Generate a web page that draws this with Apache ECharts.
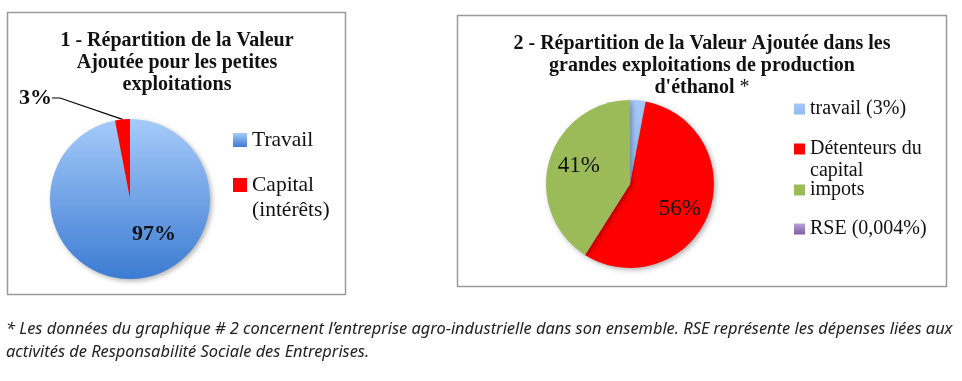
<!DOCTYPE html>
<html>
<head>
<meta charset="utf-8">
<script src="https://cdn.jsdelivr.net/npm/echarts@6/dist/echarts.min.js"></script>
<style>html,body{margin:0;padding:0;background:#fff}#c{width:962px;height:381px}</style>
</head>
<body>
<div id="c"></div>
<script>
// ---- Data ----
const pie1Names = ['Travail', 'Capital (intérêts)'];
const pie1Values = [97, 3];
const pie1Labels = ['97%', '3%'];
const pie2Names = ['travail (3%)', 'Détenteurs du capital', 'impots', 'RSE (0,004%)'];
const pie2Values = [3, 56, 41, 0.004];
const pie2Labels = ['', '56%', '41%', ''];
const title1 = '1 - Répartition de la Valeur\nAjoutée pour les petites\nexploitations';
const title2 = "2 - Répartition de la Valeur Ajoutée dans les\ngrandes exploitations de production\nd'éthanol {n|*}";
const note1 = "* Les données du graphique # 2 concernent l’entreprise agro-industrielle dans son ensemble. RSE représente les dépenses liées aux";
const note2 = "activités de Responsabilité Sociale des Entreprises.";

const serif = '"Liberation Serif", "DejaVu Serif", serif';
const sans = '"Noto Sans", sans-serif';
const grad = (a, b) => new echarts.graphic.LinearGradient(0, 0, 0, 1, [{offset: 0, color: a}, {offset: 1, color: b}]);
const blue1 = grad('#a6cbfa', '#3c7bd2');
const blue2 = grad('#a6c8f8', '#92baf0');
const red = '#ff0000';
const green = '#9bbb59';
const purple = grad('#b9a3d6', '#7a5ea0');
const pie1Colors = [blue1, red];
const pie2Colors = [blue2, red, green, purple];

const chart = echarts.init(document.getElementById('c'));

function legend(name, left, top, fontSize, lh, size, fmt) {
  return {
    data: [name], orient: 'vertical', left: left, top: top, padding: 0,
    itemWidth: size, itemHeight: size, icon: 'rect', selectedMode: false,
    formatter: fmt || (n => n),
    textStyle: {fontFamily: serif, fontSize: fontSize, lineHeight: lh, color: '#111'}
  };
}

const shadow = {shadowBlur: 5, shadowColor: 'rgba(0,0,0,0.3)', shadowOffsetX: 2, shadowOffsetY: 2};

chart.setOption({
  animation: false,
  backgroundColor: '#fff',
  legend: [
    legend(pie1Names[0], 233, 129, 21.5, 22, 14),
    legend(pie1Names[1], 233, 147.5, 21.5, 25, 14, () => '\nCapital\n(intérêts)'),
    legend(pie2Names[0], 794, 98, 20, 22, 11),
    legend(pie2Names[1], 794, 116, 20, 22, 11, () => '\nDétenteurs du\ncapital'),
    legend(pie2Names[2], 794, 179, 20, 22, 11),
    legend(pie2Names[3], 794, 218, 20, 22, 11)
  ],
  graphic: [
    {type: 'rect', shape: {x: 7.5, y: 12.5, width: 338, height: 282}, style: {fill: 'none', stroke: '#9a9a9a', lineWidth: 1.5}, silent: true},
    {type: 'rect', shape: {x: 457.5, y: 15.5, width: 489, height: 271}, style: {fill: 'none', stroke: '#9a9a9a', lineWidth: 1.5}, silent: true},
    {type: 'text', x: 177, y: 63, style: {text: title1, align: 'center', verticalAlign: 'middle', font: 'bold 20px ' + serif, lineHeight: 22, fill: '#111'}},
    {type: 'text', x: 702, y: 66, style: {text: title2, align: 'center', verticalAlign: 'middle', font: 'bold 20px ' + serif, lineHeight: 22, fill: '#111',
      rich: {n: {fontFamily: serif, fontSize: 20, fontWeight: 'normal', lineHeight: 22, fill: '#111'}}}},
    {type: 'text', x: 6, y: 329, style: {text: note1, verticalAlign: 'middle', font: 'italic 16.4px ' + sans, fill: '#222'}},
    {type: 'text', x: 6, y: 352, style: {text: note2, verticalAlign: 'middle', font: 'italic 16.4px ' + sans, fill: '#222'}}
  ],
  series: [
    {
      type: 'pie', center: [130, 199], radius: 80, startAngle: 90, clockwise: true,
      avoidLabelOverlap: false, silent: true,
      data: pie1Names.map((n, i) => ({
        name: n, value: pie1Values[i],
        itemStyle: Object.assign({color: pie1Colors[i]}, i === 0 ? shadow : {}),
        label: i === 0
          ? {show: true, position: 'inside', formatter: pie1Labels[i], offset: [20, -7], fontFamily: serif, fontWeight: 'bold', fontSize: 22, color: '#111'}
          : {show: true, position: 'outside', formatter: pie1Labels[i], fontFamily: serif, fontWeight: 'bold', fontSize: 22, color: '#111'},
        labelLine: i === 0 ? {show: false} : {show: true, length: 10, length2: 8, lineStyle: {color: '#000', width: 1.2}}
      })),
      labelLayout: function (p) {
        if (p.dataIndex === 1) return {x: 19, y: 98, align: 'left', verticalAlign: 'middle'};
        return {};
      }
    },
    {
      type: 'pie', center: [630, 184], radius: 84, startAngle: 90, clockwise: true,
      avoidLabelOverlap: false, silent: true, minAngle: 0,
      data: pie2Names.map((n, i) => ({
        name: n, value: pie2Values[i],
        itemStyle: Object.assign({color: pie2Colors[i]}, shadow),
        label: {show: pie2Labels[i] !== '', position: 'inside', formatter: pie2Labels[i],
          offset: i === 1 ? [8, 8] : [-8, -6],
          fontFamily: serif, fontSize: 23, color: '#111'},
        labelLine: {show: false}
      }))
    }
  ]
});
</script>
</body>
</html>
